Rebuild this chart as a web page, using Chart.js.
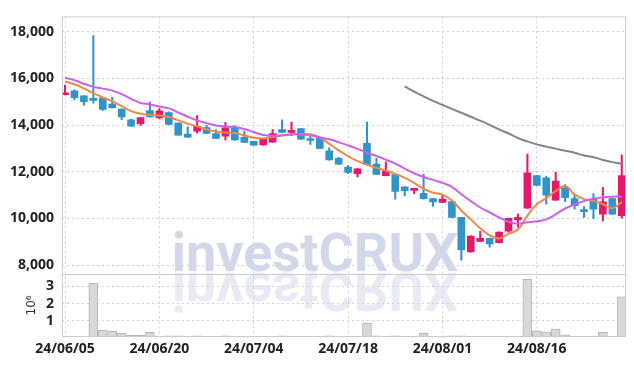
<!DOCTYPE html>
<html>
<head>
<meta charset="utf-8">
<script src="https://cdn.jsdelivr.net/npm/chart.js@4.4.1/dist/chart.umd.min.js"></script>
<style>
  html, body { margin: 0; padding: 0; background: #fff; }
  #chart { display: block; }
</style>
</head>
<body>
<canvas id="chart" width="634" height="366"></canvas>
<script>
const dates = [
  '24/06/05', '24/06/07', '24/06/10', '24/06/11', '24/06/12', '24/06/13', '24/06/14', '24/06/17', '24/06/18', '24/06/19',
  '24/06/20', '24/06/21', '24/06/24', '24/06/25', '24/06/26', '24/06/27', '24/06/28', '24/07/01', '24/07/02', '24/07/03',
  '24/07/04', '24/07/05', '24/07/08', '24/07/09', '24/07/10', '24/07/11', '24/07/12', '24/07/15', '24/07/16', '24/07/17',
  '24/07/18', '24/07/19', '24/07/22', '24/07/23', '24/07/24', '24/07/25', '24/07/26', '24/07/29', '24/07/30', '24/07/31',
  '24/08/01', '24/08/02', '24/08/05', '24/08/06', '24/08/07', '24/08/08', '24/08/09', '24/08/12', '24/08/13', '24/08/14',
  '24/08/16', '24/08/19', '24/08/20', '24/08/21', '24/08/22', '24/08/23', '24/08/26', '24/08/27', '24/08/28', '24/08/29'
];

const open = [
  15300, 15470, 15250, 15090, 15160, 14900, 14690, 14230, 14060, 14620,
  14320, 14540, 14090, 13610, 13740, 13890, 13640, 13530, 13880, 13470,
  13300, 13150, 13270, 13810, 13690, 13850, 13370, 13470, 12900, 12570,
  12200, 11920, 13220, 12330, 11830, 11880, 11350, 11200, 11070, 10850,
  10680, 10720, 10040, 8560, 9010, 9150, 8960, 9450, 9930, 10440,
  11830, 11740, 10780, 11310, 10850, 10330, 10820, 10180, 10850, 10120
];
const high = [
  15720, 15510, 15260, 17840, 15190, 15190, 14700, 14260, 14330, 14990,
  14710, 14570, 14100, 13920, 14410, 13990, 13810, 14120, 13980, 13740,
  13310, 13400, 13810, 14230, 14130, 13850, 13530, 13480, 13020, 12620,
  12270, 12130, 14130, 12580, 12420, 11890, 11360, 11280, 11900, 10860,
  10990, 10730, 10050, 9250, 9440, 9160, 9420, 10010, 10180, 12760,
  11850, 11810, 11980, 11450, 11030, 10510, 11060, 11330, 10860, 12720
];
const low = [
  15290, 15080, 14850, 14940, 14630, 14730, 14230, 13940, 13990, 14340,
  14260, 14020, 13560, 13470, 13650, 13630, 13420, 13360, 13350, 13250,
  13130, 13140, 13260, 13690, 13550, 13390, 13170, 12990, 12500, 12300,
  11920, 11780, 12260, 11870, 11820, 10820, 10960, 11060, 10820, 10510,
  10670, 10030, 8210, 8550, 9000, 8770, 8950, 9410, 9620, 10430,
  11400, 10610, 10770, 10720, 10400, 10040, 9990, 9890, 10170, 10010
];
const close = [
  15350, 15180, 15000, 15060, 14670, 14750, 14350, 13950, 14320, 14350,
  14610, 14030, 13570, 13480, 13950, 13640, 13430, 13880, 13360, 13260,
  13140, 13390, 13640, 13690, 13760, 13400, 13340, 13000, 12510, 12320,
  11970, 12120, 12300, 11880, 12030, 11160, 11190, 11270, 10850, 10710,
  10830, 10040, 8660, 9240, 9150, 8910, 9410, 10000, 10040, 11950,
  11410, 10990, 11600, 10890, 10540, 10290, 10390, 10710, 10180, 11830
];

const ma5 = [
  15870, 15750, 15570, 15370, 15190, 15020, 14810, 14600, 14485, 14430,
  14413, 14345, 14200, 14062, 13947, 13820, 13723, 13681, 13660, 13554,
  13461, 13427, 13491, 13554, 13596, 13609, 13609, 13469, 13194, 12919,
  12666, 12454, 12306, 12158, 12052, 11904, 11735, 11524, 11270, 11101,
  11016, 10762, 10339, 9958, 9578, 9269, 9134, 9337, 9523, 10115,
  10606, 10868, 11173, 11384, 11029, 10825, 10750, 10606, 10437, 10699
];
const ma20 = [
  16029, 15923, 15775, 15648, 15563, 15479, 15331, 15119, 14950, 14886,
  14793, 14717, 14540, 14358, 14201, 14083, 13985, 13935, 13914, 13829,
  13702, 13575, 13541, 13567, 13609, 13609, 13567, 13469, 13393, 13266,
  13131, 12983, 12814, 12674, 12517, 12349, 12137, 11934, 11777, 11650,
  11524, 11354, 11037, 10741, 10466, 10255, 10043, 9853, 9769, 9832,
  9874, 9959, 10170, 10424, 10593, 10741, 10847, 10910, 10932, 10932
];
const ma120 = [
  null, null, null, null, null, null, null, null, null, null,
  null, null, null, null, null, null, null, null, null, null,
  null, null, null, null, null, null, null, null, null, null,
  null, null, null, null, null, null, 15656, 15436, 15234, 15035,
  14864, 14696, 14527, 14358, 14188, 14007, 13816, 13638, 13448, 13300,
  13173, 13076, 12991, 12899, 12814, 12696, 12624, 12505, 12412, 12340
];

// volume in millions of shares
const volume = [
  0.05, 0.06, 0.1, 3.16, 0.47, 0.41, 0.3, 0.18, 0.18, 0.35,
  0.1, 0.15, 0.15, 0.08, 0.15, 0.08, 0.07, 0.15, 0.07, 0.07,
  0.06, 0.07, 0.06, 0.15, 0.08, 0.07, 0.07, 0.07, 0.15, 0.08,
  0.07, 0.07, 0.88, 0.15, 0.07, 0.15, 0.07, 0.07, 0.31, 0.07,
  0.06, 0.15, 0.15, 0.07, 0.07, 0.06, 0.06, 0.06, 0.06, 3.39,
  0.43, 0.37, 0.54, 0.2, 0.1, 0.07, 0.07, 0.35, 0.07, 2.39
];

const xTicks = [0, 10, 20, 30, 40, 50];
const priceTicks = [8000, 10000, 12000, 14000, 16000, 18000];
const volumeTicks = [1, 2, 3];

const UP = '#e4196b';
const DOWN = '#2f95c9';
const gridColor = '#cdcfe0';
const frameColor = '#cccccc';
const tickFont = { family: "'Open Sans'", style: 'condensed', size: 14, weight: 'bold' };

const candleColors = close.map((c, i) => c >= open[i] ? UP : DOWN);
const pts = arr => arr.map((v, i) => ({ x: i, y: v }));

const frame = {
  id: 'frame',
  beforeDatasetsDraw(chart) {
    const ctx = chart.ctx;
    const base = 271;
    ctx.save();
    ctx.font = 'bold 54px Roboto';
    ctx.textAlign = 'center';
    ctx.fillStyle = '#d2d7ea';
    ctx.fillText('investCRUX', 315, base);
    // reflection under the line
    ctx.translate(0, base * 2);
    ctx.scale(1, -1);
    ctx.globalAlpha = 0.5;
    ctx.fillText('investCRUX', 315, base - 2);
    ctx.restore();
  },
  afterDraw(chart) {
    const ctx = chart.ctx;
    const a = chart.chartArea;
    const split = chart.scales.y2.top;
    ctx.save();
    ctx.strokeStyle = frameColor;
    ctx.lineWidth = 1;
    ctx.strokeRect(a.left + 0.5, a.top + 0.5, a.right - a.left - 1, a.bottom - a.top - 1);
    ctx.beginPath();
    ctx.moveTo(a.left, Math.round(split) + 0.5);
    ctx.lineTo(a.right, Math.round(split) + 0.5);
    ctx.stroke();
    ctx.restore();
  }
};

new Chart(document.getElementById('chart'), {
  type: 'bar',
  data: {
    datasets: [
      { type: 'line', data: pts(ma120), yAxisID: 'y', borderColor: '#858585', borderWidth: 2, pointRadius: 0, tension: 0.4, order: 0 },
      { type: 'line', data: pts(ma20), yAxisID: 'y', borderColor: '#cc5ff0', borderWidth: 2, pointRadius: 0, tension: 0.4, order: 0 },
      { type: 'line', data: pts(ma5), yAxisID: 'y', borderColor: '#f0884c', borderWidth: 2, pointRadius: 0, tension: 0.4, order: 0 },
      { data: open.map((o, i) => ({ x: i, y: [o, close[i]] })), yAxisID: 'y', backgroundColor: candleColors, barThickness: 7, minBarLength: 2, grouped: false, order: 1 },
      { data: low.map((l, i) => ({ x: i, y: [l, high[i]] })), yAxisID: 'y', backgroundColor: candleColors, barThickness: 1.4, grouped: false, order: 2 },
      { data: pts(volume), yAxisID: 'y2', backgroundColor: '#d8d8d8', borderColor: '#b5b5b5', borderWidth: 1, barThickness: 9, grouped: false, order: 3 }
    ]
  },
  options: {
    responsive: false,
    animation: false,
    layout: { padding: { top: 9, right: 8, left: 0, bottom: 0 } },
    plugins: { legend: { display: false }, tooltip: { enabled: false } },
    scales: {
      x: {
        type: 'linear',
        offset: false,
        min: -0.32,
        max: 59.45,
        afterBuildTicks: s => { s.ticks = xTicks.map(v => ({ value: v })); },
        afterFit: s => { s.height = 29; },
        ticks: { font: tickFont, color: '#222', padding: 4, maxRotation: 0, autoSkip: false, callback: v => dates[v] },
        grid: { color: gridColor, drawTicks: false, offset: false },
        border: { display: false, dash: [2, 3] }
      },
      y2: {
        position: 'left',
        stack: 'panels',
        stackWeight: 1,
        min: 0.08,
        max: 3.7,
        afterBuildTicks: s => { s.ticks = volumeTicks.map(v => ({ value: v })); },
        afterFit: s => { s.width = 62; },
        title: { display: true, text: '10⁶', color: '#333', font: { family: 'DejaVu Sans', size: 12 }, padding: { top: 25, bottom: 0 } },
        ticks: { font: tickFont, color: '#222', padding: 8, autoSkip: false },
        grid: { color: gridColor, drawTicks: false },
        border: { display: false, dash: [2, 3] }
      },
      y: {
        position: 'left',
        stack: 'panels',
        stackWeight: 4.08,
        min: 7620,
        max: 18660,
        afterBuildTicks: s => { s.ticks = priceTicks.map(v => ({ value: v })); },
        afterFit: s => { s.width = 62; },
        ticks: { font: tickFont, color: '#222', padding: 8, autoSkip: false, callback: v => v.toLocaleString('en-US') },
        grid: { color: gridColor, drawTicks: false },
        border: { display: false, dash: [2, 3] }
      }
    }
  },
  plugins: [frame]
});
</script>
</body>
</html>
